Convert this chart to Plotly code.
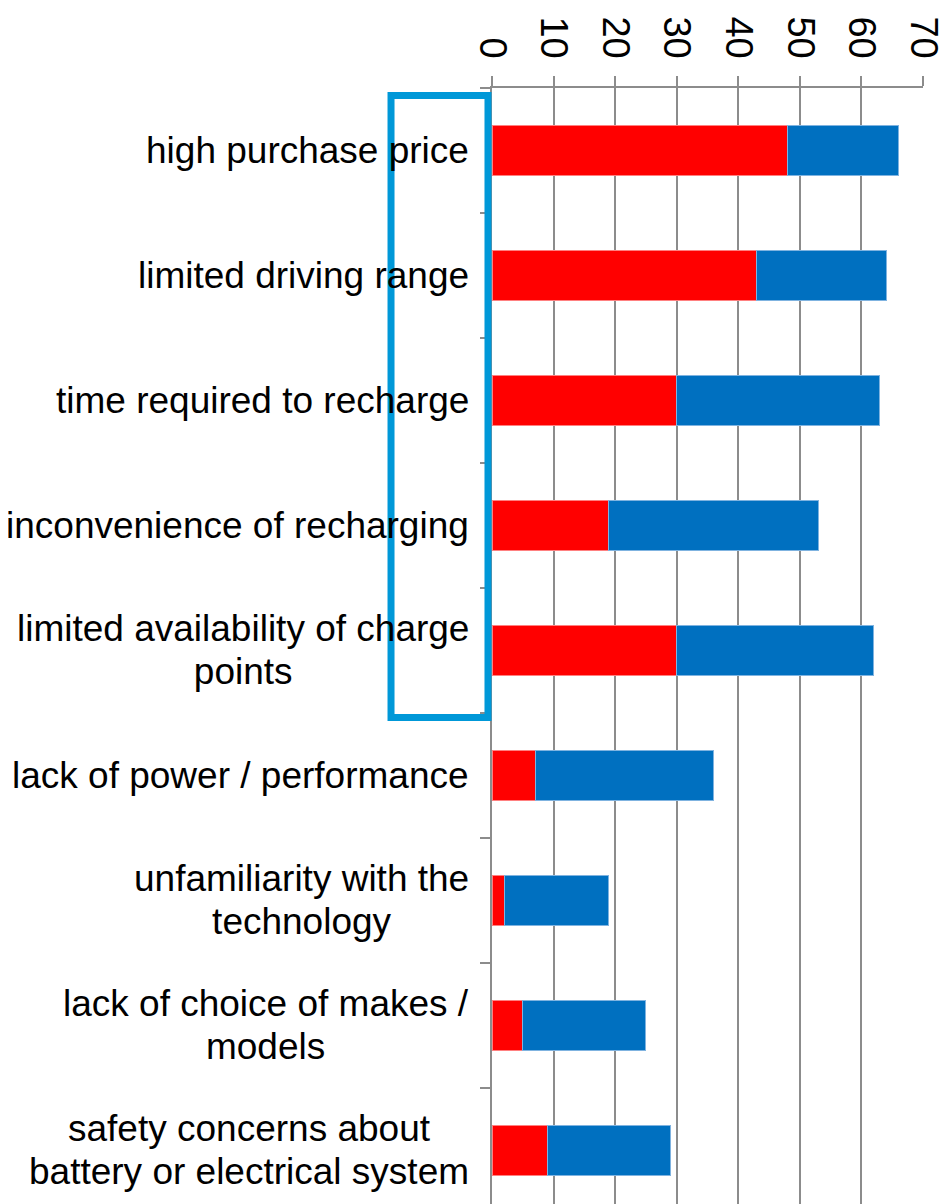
import plotly.graph_objects as go

categories = [
    "high purchase price",
    "limited driving range",
    "time required to recharge",
    "inconvenience of recharging",
    "limited availability of charge<br>points",
    "lack of power / performance",
    "unfamiliarity with the<br>technology",
    "lack of choice of makes /<br>models",
    "safety concerns about<br>battery or electrical system",
]
red_values = [48, 43, 30, 19, 30, 7, 2, 5, 9]
blue_values = [18, 21, 33, 34, 32, 29, 17, 20, 20]
x_ticks = [0, 10, 20, 30, 40, 50, 60, 70]

FONT = "Liberation Sans, Arial, sans-serif"
GRID = "#8c8c8c"
LABEL_SIZE = 37
BASE_SIZE = 33  # controls line spacing (1.3 * 33 ~ 43px)

fig = go.Figure()
fig.add_trace(go.Bar(
    y=categories, x=red_values, orientation="h", width=0.4,
    marker=dict(color="#FF0000", line=dict(color="#ff8080", width=1)),
    showlegend=False,
))
fig.add_trace(go.Bar(
    y=categories, x=blue_values, orientation="h", width=0.4,
    marker=dict(color="#0070C0", line=dict(color="#7fb3e0", width=1)),
    showlegend=False,
))

for cat in categories:
    lines = cat.split("<br>")
    text = "<br>".join(
        "<span style='font-size:%dpx'>%s</span>" % (LABEL_SIZE, ln) for ln in lines
    )
    fig.add_annotation(
        x=-0.049, xref="paper", y=cat, yref="y",
        text=text, showarrow=False, xanchor="right", yanchor="middle",
        align="center",
        font=dict(family=FONT, size=BASE_SIZE, color="black"),
    )

fig.add_shape(
    type="rect", xref="paper", yref="paper",
    x0=-0.2343, x1=-0.0093, y0=0.4359, y1=0.9933,
    line=dict(color="#0098D8", width=7),
)

fig.update_layout(
    width=939, height=1196,
    margin=dict(l=484, r=24, t=80, b=0),
    barmode="stack",
    plot_bgcolor="white", paper_bgcolor="white",
    font=dict(family=FONT, size=LABEL_SIZE, color="black"),
    xaxis=dict(
        side="top", range=[0, 70], tickvals=x_ticks, ticktext=[str(v) for v in x_ticks],
        tickangle=90, showgrid=True, gridcolor=GRID, gridwidth=2,
        ticks="outside", ticklen=10, tickwidth=2, tickcolor=GRID,
        showline=True, linecolor=GRID, linewidth=2, zeroline=False,
        tickfont=dict(family=FONT, size=38, color="black"),
        ticklabelstandoff=4,
    ),
    yaxis=dict(
        type="category", categoryorder="array", categoryarray=categories,
        range=[8.43, -0.5], tickson="boundaries",
        showticklabels=False, showgrid=False,
        ticks="outside", ticklen=10, tickwidth=2, tickcolor=GRID,
        showline=True, linecolor=GRID, linewidth=2, zeroline=False,
    ),
)

fig.write_html("out.html")
